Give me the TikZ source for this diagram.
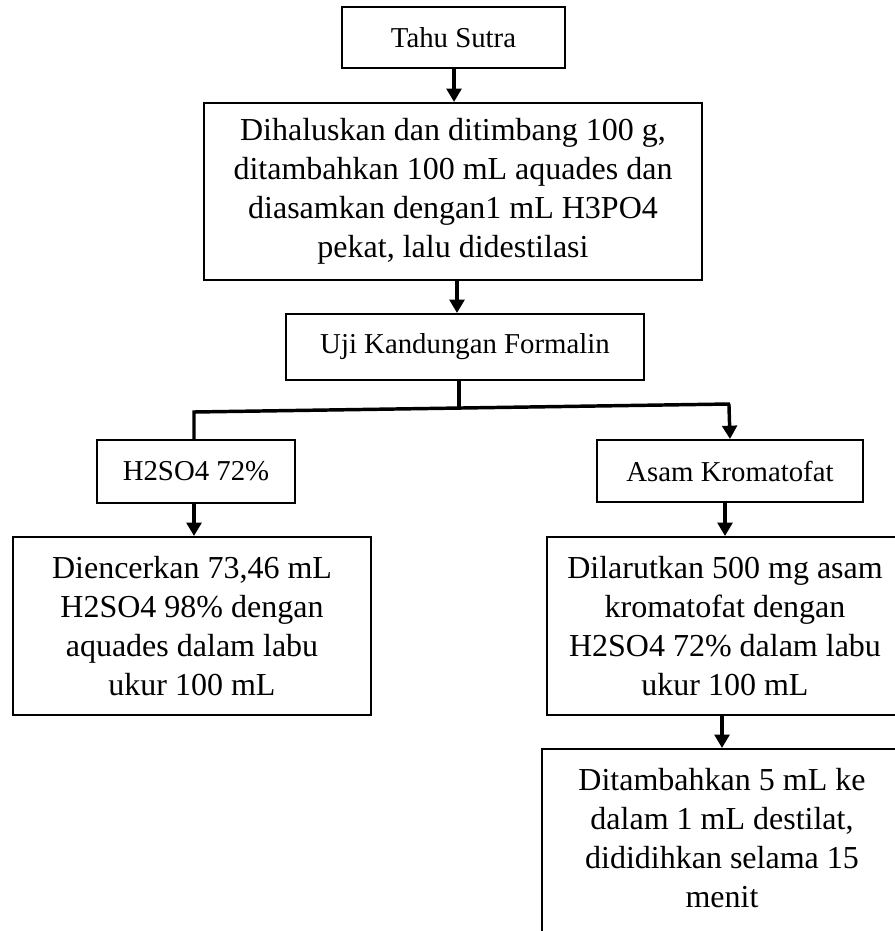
\documentclass[tikz,border=0pt]{standalone}
\usepackage{fontspec}
\setmainfont{Liberation Serif}
\usetikzlibrary{arrows.meta,calc}
\tikzset{
  box/.style={draw=black, line width=1.5pt, inner sep=0pt, align=center},
  smalltxt/.style={font=\fontsize{21.6}{26}\selectfont},
  bigtxt/.style={font=\fontsize{24}{29.4}\selectfont},
  conn/.style={line width=2.6pt, draw=black},
  arr/.style={conn, -{Triangle[length=10pt,width=11pt]}}
}
\begin{document}
\begin{tikzpicture}[x=0.75pt,y=-0.75pt]
\useasboundingbox (0,0) rectangle (895,931);
\clip (0,0) rectangle (895,931);
\fill[white] (0,0) rectangle (895,931);
% boxes
\node[box, smalltxt, minimum width=167.25pt, minimum height=45.75pt] (tahu) at (453.5,37.5) {Tahu Sutra};
\node[box, bigtxt, minimum width=373.5pt, minimum height=132.75pt] (big) at (453,191.5)
  {Dihaluskan dan ditimbang 100 g,\\ditambahkan 100 mL aquades dan\\diasamkan dengan1 mL H3PO4\\pekat, lalu didestilasi};
\node[box, smalltxt, minimum width=268.5pt, minimum height=49.5pt] (uji) at (465,347) {Uji Kandungan Formalin};
\node[box, smalltxt, minimum width=148.5pt, minimum height=47.25pt] (hso) at (196,471.5) {H2SO4 72\%};
\node[box, smalltxt, minimum width=199.5pt, minimum height=46.5pt] (asam) at (730,471) {Asam Kromatofat};
\node[box, bigtxt, minimum width=268.5pt, minimum height=133.5pt] (lbig) at (192,626)
  {Diencerkan 73,46 mL\\H2SO4 98\% dengan\\aquades dalam labu\\ukur 100 mL};
\node[box, bigtxt, minimum width=267pt, minimum height=133.5pt] (rbig) at (725,626)
  {Dilarutkan 500 mg asam\\kromatofat dengan\\H2SO4 72\% dalam labu\\ukur 100 mL};
\node[box, minimum width=270pt, minimum height=150pt, anchor=north] (bot) at (722,748) {};
\node[bigtxt, align=center] (bottxt) at (722,838) {Ditambahkan 5 mL ke\\dalam 1 mL destilat,\\dididihkan selama 15\\menit};
% connectors
\draw[arr] ([xshift=0.4pt]tahu.south) -- ([xshift=0.4pt]tahu.south |- big.north);
\draw[arr] ([xshift=3pt]big.south) -- ([xshift=3pt]big.south |- uji.north);
\coordinate (jl) at (194,412);
\coordinate (jr) at (730,404);
\coordinate (jm) at (459,408);
\draw[conn] (uji.south -| jm) -- (jm);
\draw[conn] (hso.north -| jl) -- (jl) -- (jr);
\draw[arr] ([xshift=-0.8pt]jr) -- (asam.north);
\draw[arr] ([xshift=-1.5pt]hso.south) -- ([xshift=-1.5pt]hso.south |- lbig.north);
\draw[arr] ([xshift=-3.75pt]asam.south) -- ([xshift=-3.75pt]asam.south |- rbig.north);
\draw[arr] ([xshift=-2.25pt]rbig.south) -- ([xshift=-2.25pt]rbig.south |- bot.north);
\end{tikzpicture}
\end{document}
